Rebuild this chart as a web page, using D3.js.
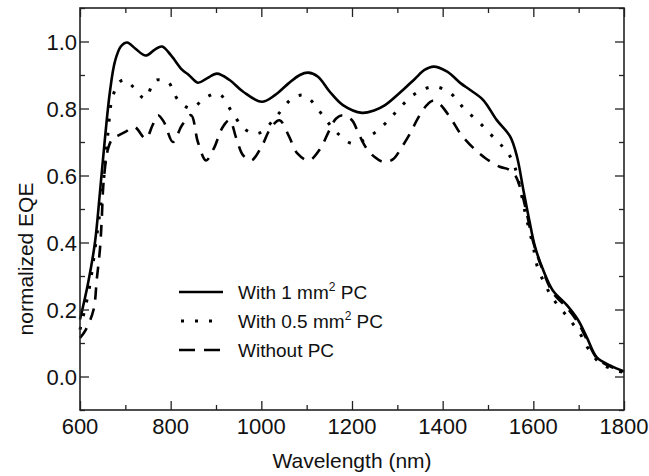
<!DOCTYPE html>
<html>
<head>
<meta charset="utf-8">
<script src="https://cdn.jsdelivr.net/npm/d3@7"></script>
<style>
  body { margin: 0; background: #fff; }
  text { font-family: Arial, "Liberation Sans", sans-serif; fill: #111; }
</style>
</head>
<body>
<svg id="chart" width="649" height="476"></svg>
<script>
// wavelength (nm) / normalized EQE
const pc1nm = [600, 618, 633, 644, 655, 666, 677, 690, 704, 721, 745, 765, 781, 800, 825, 840, 860, 880, 902, 930, 960, 1001, 1030, 1060, 1085, 1103, 1125, 1151, 1180, 1222, 1250, 1273, 1313, 1339, 1360, 1380, 1410, 1440, 1460, 1489, 1519, 1549, 1564, 1578, 1591, 1604, 1622, 1643, 1674, 1699, 1718, 1740, 1769, 1800]
const pc1 = [0.17, 0.28, 0.40, 0.55, 0.71, 0.85, 0.94, 0.985, 0.997, 0.98, 0.958, 0.976, 0.985, 0.96, 0.916, 0.90, 0.877, 0.89, 0.904, 0.885, 0.85, 0.82, 0.84, 0.875, 0.90, 0.907, 0.895, 0.85, 0.81, 0.787, 0.795, 0.81, 0.856, 0.889, 0.915, 0.925, 0.91, 0.875, 0.856, 0.826, 0.766, 0.716, 0.656, 0.557, 0.467, 0.386, 0.317, 0.257, 0.213, 0.168, 0.117, 0.057, 0.033, 0.015]

const pc05nm = [600, 620, 635, 650, 662, 671, 688, 700, 717, 743, 765, 782, 796, 816, 845, 874, 900, 911, 935, 962, 985, 1001, 1034, 1068, 1090, 1105, 1135, 1165, 1202, 1240, 1277, 1308, 1343, 1381, 1416, 1447, 1484, 1519, 1540, 1555, 1566, 1582, 1591, 1600, 1608, 1624, 1643, 1674, 1703, 1721, 1747, 1775, 1800]
const pc05 = [0.14, 0.26, 0.40, 0.56, 0.73, 0.83, 0.88, 0.885, 0.865, 0.83, 0.883, 0.885, 0.877, 0.826, 0.80, 0.83, 0.845, 0.84, 0.79, 0.74, 0.725, 0.73, 0.778, 0.83, 0.84, 0.83, 0.78, 0.73, 0.695, 0.718, 0.76, 0.806, 0.847, 0.865, 0.847, 0.80, 0.754, 0.704, 0.675, 0.64, 0.593, 0.488, 0.437, 0.386, 0.332, 0.28, 0.233, 0.18, 0.128, 0.083, 0.04, 0.022, 0.012]

const nopcNm = [600, 613, 630, 637, 644, 648, 652, 662, 672, 685, 700, 720, 745, 760, 772, 785, 805, 825, 845, 860, 878, 895, 915, 930, 945, 960, 978, 1000, 1020, 1040, 1060, 1080, 1105, 1130, 1150, 1165, 1180, 1200, 1213, 1230, 1250, 1270, 1290, 1310, 1330, 1345, 1365, 1378, 1392, 1420, 1438, 1467, 1493, 1526, 1545, 1560, 1575, 1585, 1600, 1620, 1643, 1674, 1699, 1718, 1740, 1769, 1800]
const nopc = [0.115, 0.14, 0.20, 0.29, 0.38, 0.47, 0.58, 0.68, 0.71, 0.72, 0.73, 0.745, 0.71, 0.75, 0.78, 0.76, 0.70, 0.75, 0.78, 0.70, 0.645, 0.68, 0.745, 0.765, 0.71, 0.66, 0.645, 0.685, 0.74, 0.765, 0.72, 0.665, 0.645, 0.68, 0.735, 0.77, 0.78, 0.765, 0.73, 0.685, 0.655, 0.64, 0.648, 0.685, 0.73, 0.77, 0.81, 0.823, 0.815, 0.766, 0.727, 0.683, 0.653, 0.626, 0.618, 0.60, 0.545, 0.49, 0.40, 0.32, 0.25, 0.205, 0.16, 0.11, 0.055, 0.03, 0.015]

const xTicks = [600, 800, 1000, 1200, 1400, 1600, 1800]
const yTicks = [0.0, 0.2, 0.4, 0.6, 0.8, 1.0]

const legendNames = ['With 1 mm', 'With 0.5 mm', 'Without PC']

const svg = d3.select('#chart')
const mLeft = 80, mRight = 624, mTop = 8, mBottom = 410

const x = d3.scaleLinear().domain([600, 1800]).range([mLeft, mRight])
const y = d3.scaleLinear().domain([-0.1, 1.1]).range([mBottom, mTop])

const series = [
  { xs: pc1nm, ys: pc1, dash: null, width: 2.6 },
  { xs: pc05nm, ys: pc05, dash: '3,11', width: 3 },
  { xs: nopcNm, ys: nopc, dash: '12,9', width: 2.6 },
]

const line = d3.line()
  .x(d => x(d[0]))
  .y(d => y(d[1]))
  .curve(d3.curveCatmullRom.alpha(0.5))

svg.append('g')
  .selectAll('path')
  .data(series)
  .join('path')
    .attr('d', s => line(s.xs.map((v, i) => [v, s.ys[i]])))
    .attr('fill', 'none')
    .attr('stroke', '#000')
    .attr('stroke-width', s => s.width)
    .attr('stroke-dasharray', s => s.dash)

// frame + inward ticks on all four sides
const minorX = d3.range(700, 1800, 200)
const minorY = d3.range(-0.1, 1.1, 0.2).map(v => +v.toFixed(1))

function ticks (g, axis, scale, major, minor) {
  g.call(axis(scale).tickValues(major).tickSize(9).tickFormat(''))
  g.call(gg => gg.select('.domain').remove())
  g.selectAll('line').attr('stroke', '#222').attr('stroke-width', 1.3)
  g.append('g').call(axis(scale).tickValues(minor).tickSize(5).tickFormat(''))
    .call(gg => gg.select('.domain').remove())
    .selectAll('line').attr('stroke', '#222').attr('stroke-width', 1.3)
}

ticks(svg.append('g').attr('transform', `translate(0,${mBottom})`), d3.axisTop, x, xTicks, minorX)
ticks(svg.append('g').attr('transform', `translate(0,${mTop})`), d3.axisBottom, x, xTicks, minorX)
ticks(svg.append('g').attr('transform', `translate(${mLeft},0)`), d3.axisRight, y, yTicks, minorY)
ticks(svg.append('g').attr('transform', `translate(${mRight},0)`), d3.axisLeft, y, yTicks, minorY)

svg.append('rect')
  .attr('x', mLeft).attr('y', mTop)
  .attr('width', mRight - mLeft).attr('height', mBottom - mTop)
  .attr('fill', 'none').attr('stroke', '#222').attr('stroke-width', 1.6)

svg.append('g')
  .selectAll('text')
  .data(xTicks)
  .join('text')
    .attr('x', d => x(d))
    .attr('y', 434)
    .attr('text-anchor', 'middle')
    .attr('font-size', 22)
    .text(d => d)

svg.append('g')
  .selectAll('text')
  .data(yTicks)
  .join('text')
    .attr('x', mLeft - 3)
    .attr('y', d => y(d) + 8)
    .attr('text-anchor', 'end')
    .attr('font-size', 22)
    .text(d => d.toFixed(1))

svg.append('text')
  .attr('x', (mLeft + mRight) / 2)
  .attr('y', 468)
  .attr('text-anchor', 'middle')
  .attr('font-size', 21)
  .text('Wavelength (nm)')

svg.append('text')
  .attr('transform', 'translate(33,259) rotate(-90)')
  .attr('text-anchor', 'middle')
  .attr('font-size', 21)
  .text('normalized EQE')

// legend
const legend = svg.append('g')
  .selectAll('g')
  .data(series)
  .join('g')
    .attr('transform', (d, i) => `translate(179,${292 + i * 29})`)

legend.append('line')
  .attr('x1', 0).attr('x2', 44)
  .attr('stroke', '#000')
  .attr('stroke-width', d => d.width)
  .attr('stroke-dasharray', (d, i) => i === 1 ? '3,11' : i === 2 ? '16,9' : null)
  .attr('stroke-dashoffset', (d, i) => i === 1 ? -2 : 0)

const label = legend.append('text')
  .attr('x', 59)
  .attr('y', 7)
  .attr('font-size', 19)

label.append('tspan').text((d, i) => legendNames[i])
label.filter((d, i) => i < 2).append('tspan')
  .attr('font-size', 12).attr('dy', -8).text('2')
label.filter((d, i) => i < 2).append('tspan')
  .attr('dy', 8).text(' PC')
</script>
</body>
</html>
